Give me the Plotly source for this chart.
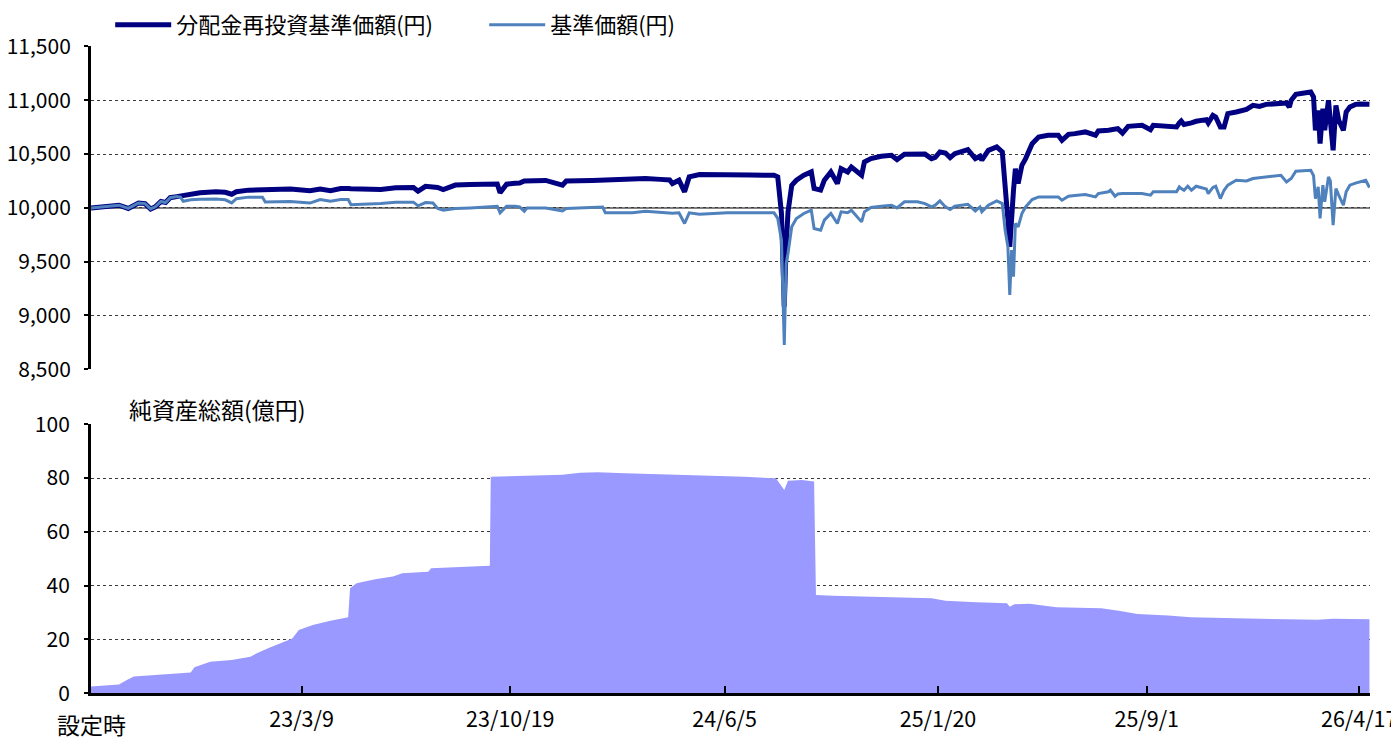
import plotly.graph_objects as go

# ---- data ----
nav_dates = [
    "2022-07-26", "2022-08-05", "2022-08-14", "2022-08-25", "2022-09-04", "2022-09-15", "2022-09-22", "2022-09-28",
    "2022-10-03", "2022-10-09", "2022-10-14", "2022-10-19", "2022-10-26", "2022-10-30", "2022-11-02", "2022-11-10",
    "2022-11-20", "2022-12-07", "2022-12-17", "2022-12-24", "2022-12-29", "2023-01-11", "2023-01-26", "2023-01-29",
    "2023-02-25", "2023-03-18", "2023-03-29", "2023-04-09", "2023-04-20", "2023-04-28", "2023-05-01", "2023-06-02",
    "2023-06-18", "2023-07-07", "2023-07-12", "2023-07-20", "2023-07-28", "2023-08-02", "2023-08-08", "2023-08-21",
    "2023-09-06", "2023-09-24", "2023-10-05", "2023-10-08", "2023-10-15", "2023-10-24", "2023-10-29", "2023-11-03",
    "2023-11-06", "2023-11-26", "2023-12-14", "2023-12-18", "2024-01-15", "2024-01-26", "2024-01-29", "2024-02-27",
    "2024-03-12", "2024-03-28", "2024-04-07", "2024-04-10", "2024-04-17", "2024-04-23", "2024-04-28", "2024-05-09",
    "2024-06-08", "2024-07-03", "2024-07-28", "2024-08-01", "2024-08-05", "2024-08-08", "2024-08-10", "2024-08-12",
    "2024-08-16", "2024-08-21", "2024-08-29", "2024-09-06", "2024-09-09", "2024-09-16", "2024-09-20", "2024-09-27",
    "2024-10-04", "2024-10-08", "2024-10-15", "2024-10-19", "2024-10-30", "2024-11-02", "2024-11-09", "2024-11-20",
    "2024-12-01", "2024-12-07", "2024-12-15", "2024-12-29", "2025-01-06", "2025-01-13", "2025-01-17", "2025-01-22",
    "2025-01-28", "2025-02-02", "2025-02-07", "2025-02-21", "2025-03-01", "2025-03-06", "2025-03-08", "2025-03-15",
    "2025-03-24", "2025-03-30", "2025-04-02", "2025-04-05", "2025-04-07", "2025-04-09", "2025-04-11", "2025-04-13",
    "2025-04-16", "2025-04-20", "2025-04-24", "2025-05-01", "2025-05-08", "2025-05-18", "2025-05-29", "2025-06-02",
    "2025-06-09", "2025-06-16", "2025-06-27", "2025-07-08", "2025-07-11", "2025-07-22", "2025-07-24", "2025-07-29",
    "2025-08-01", "2025-08-06", "2025-08-12", "2025-08-27", "2025-09-05", "2025-09-08", "2025-10-03", "2025-10-06",
    "2025-10-08", "2025-10-11", "2025-10-15", "2025-10-19", "2025-10-24", "2025-11-01", "2025-11-04", "2025-11-06",
    "2025-11-11", "2025-11-14", "2025-11-19", "2025-11-23", "2025-11-27", "2025-12-06", "2025-12-17", "2025-12-24",
    "2025-12-31", "2026-01-07", "2026-01-15", "2026-01-23", "2026-01-29", "2026-02-01", "2026-02-03", "2026-02-08",
    "2026-02-16", "2026-02-24", "2026-02-27", "2026-03-01", "2026-03-04", "2026-03-06", "2026-03-09", "2026-03-11",
    "2026-03-15", "2026-03-17", "2026-03-20", "2026-03-23", "2026-03-26", "2026-03-31", "2026-04-03", "2026-04-07",
    "2026-04-13", "2026-04-18", "2026-04-24", "2026-04-28",
]

nav_reinvested = [
    10000, 10010, 10020, 10025, 9995, 10045, 10040, 9990,
    10010, 10060, 10050, 10095, 10105, 10110, 10120, 10133,
    10140, 10150, 10145, 10127, 10150, 10165, 10170, 10172,
    10175, 10160, 10175, 10160, 10180, 10180, 10178, 10172,
    10188, 10190, 10155, 10200, 10195, 10190, 10170, 10212,
    10218, 10226, 10222, 10140, 10220, 10228, 10230, 10250,
    10252, 10255, 10211, 10250, 10255, 10258, 10258, 10265,
    10273, 10265, 10260, 10226, 10257, 10149, 10288, 10310,
    10313, 10305, 10303, 10288, 9948, 9082, 9638, 9963,
    10210, 10257, 10303, 10334, 10180, 10165, 10257, 10334,
    10226, 10365, 10334, 10380, 10303, 10427, 10458, 10480,
    10489, 10449, 10498, 10504, 10500, 10458, 10470, 10520,
    10510, 10467, 10504, 10541, 10458, 10480, 10443, 10535,
    10566, 10520, 10257, 9886, 9638, 10000, 10165, 10365,
    10226, 10396, 10458, 10597, 10659, 10675, 10675, 10628,
    10684, 10690, 10706, 10675, 10715, 10721, 10725, 10730,
    10737, 10696, 10758, 10767, 10727, 10767, 10752, 10790,
    10807, 10775, 10780, 10790, 10805, 10815, 10820, 10790,
    10860, 10845, 10752, 10752, 10876, 10891, 10915, 10953,
    10943, 10962, 10966, 10970, 10974, 10937, 11000, 11055,
    11067, 11076, 11030, 10721, 10906, 10597, 10922, 10721,
    11000, 10783, 10535, 10953, 10814, 10721, 10891, 10937,
    10962, 10965, 10968, 10962,
]

nav_plain = [
    10000, 10010, 10020, 10025, 9995, 10045, 10040, 9990,
    10010, 10060, 10050, 10095, 10105, 10100, 10062, 10075,
    10080, 10082, 10075, 10046, 10085, 10100, 10100, 10055,
    10060, 10045, 10078, 10062, 10078, 10078, 10030, 10040,
    10053, 10053, 10019, 10050, 10046, 9994, 9979, 9994,
    10000, 10009, 10015, 9954, 10015, 10015, 10009, 9969,
    10000, 9998, 9972, 9994, 10006, 10009, 9954, 9954,
    9969, 9960, 9954, 9950, 9954, 9855, 9954, 9941,
    9954, 9954, 9954, 9902, 9700, 8727, 9484, 9577,
    9824, 9902, 9948, 9979, 9809, 9793, 9886, 9948,
    9855, 9963, 9955, 9979, 9870, 9963, 10004, 10016,
    10025, 10000, 10056, 10056, 10040, 10009, 10025, 10065,
    10009, 9985, 10016, 10034, 9972, 10009, 9963, 10025,
    10065, 10040, 9793, 9638, 9190, 9607, 9360, 9855,
    9824, 9948, 10009, 10077, 10102, 10102, 10102, 10071,
    10108, 10115, 10124, 10102, 10133, 10150, 10164, 10108,
    10130, 10133, 10133, 10133, 10118, 10149, 10149, 10195,
    10180, 10164, 10201, 10164, 10201, 10180, 10175, 10133,
    10190, 10201, 10087, 10164, 10211, 10257, 10250, 10273,
    10280, 10288, 10294, 10303, 10241, 10260, 10273, 10340,
    10345, 10350, 10300, 10087, 10195, 9902, 10211, 10056,
    10288, 10250, 9839, 10180, 10118, 10025, 10149, 10211,
    10230, 10241, 10257, 10189,
]

asset_dates = [
    "2022-07-26", "2022-08-25", "2022-09-03", "2022-09-10", "2022-11-10", "2022-11-14", "2022-12-01", "2022-12-24",
    "2023-01-13", "2023-01-20", "2023-02-01", "2023-02-20", "2023-02-27", "2023-03-06", "2023-03-21", "2023-04-09",
    "2023-04-26", "2023-04-28", "2023-04-30", "2023-05-07", "2023-05-27", "2023-06-15", "2023-06-25", "2023-07-23",
    "2023-07-26", "2023-08-11", "2023-09-26", "2023-09-27", "2023-09-28", "2023-11-16", "2023-12-14", "2024-01-02",
    "2024-01-21", "2024-02-19", "2024-05-09", "2024-06-26", "2024-07-30", "2024-08-08", "2024-08-12", "2024-08-27",
    "2024-09-09", "2024-09-11", "2024-09-29", "2024-11-17", "2024-12-11", "2025-01-13", "2025-01-28", "2025-03-02",
    "2025-04-04", "2025-04-07", "2025-04-12", "2025-04-28", "2025-05-27", "2025-07-14", "2025-08-02", "2025-08-22",
    "2025-09-24", "2025-10-18", "2025-12-05", "2026-01-31", "2026-03-03", "2026-03-20", "2026-04-28",
]

net_assets = [
    2.5, 3.3, 5.0, 6.2, 7.7, 9.7, 11.7, 12.4,
    13.6, 14.9, 16.7, 19.2, 20.4, 23.5, 25.4, 27.0,
    28.1, 28.3, 39.0, 40.9, 42.4, 43.4, 44.6, 45.2,
    46.5, 46.7, 47.3, 47.4, 80.5, 80.8, 81.2, 82.0,
    82.2, 81.8, 81.0, 80.5, 79.9, 75.6, 79.0, 79.3,
    78.7, 36.5, 36.3, 35.9, 35.5, 35.3, 34.4, 33.8,
    33.5, 32.2, 33.1, 33.3, 32.0, 31.6, 30.7, 29.5,
    28.9, 28.3, 27.9, 27.5, 27.3, 27.7, 27.5,
]

tick_dates = ["2023-03-09", "2023-10-19", "2024-06-05", "2025-01-20", "2025-09-01", "2026-04-17"]
tick_labels = ["23/3/9", "23/10/19", "24/6/5", "25/1/20", "25/9/1", "26/4/17"]

name_reinvested = "分配金再投資基準価額(円)"
name_plain = "基準価額(円)"
assets_title = "純資産総額(億円)"
start_label = "設定時"

x_range = ["2022-07-26", "2026-04-28 14:00"]
FONT = "Noto Sans CJK JP"

fig = go.Figure()

fig.add_trace(go.Scatter(
    x=nav_dates, y=nav_reinvested, name=name_reinvested, mode="lines",
    line=dict(color="#000080", width=5), xaxis="x2", yaxis="y2",
))
fig.add_trace(go.Scatter(
    x=nav_dates, y=nav_plain, name=name_plain, mode="lines",
    line=dict(color="#4F81BD", width=3), xaxis="x2", yaxis="y2",
))
fig.add_trace(go.Scatter(
    x=asset_dates, y=net_assets, mode="lines", fill="tozeroy",
    fillcolor="#9999FF", line=dict(color="#9999FF", width=0),
    showlegend=False, xaxis="x", yaxis="y",
))

grid = dict(showgrid=True, gridcolor="#3a3a3a", gridwidth=1, griddash="dot")

fig.update_layout(
    width=1391, height=733,
    template="none",
    paper_bgcolor="white", plot_bgcolor="white",
    margin=dict(l=83, r=29, t=0, b=0, autoexpand=False),
    font=dict(family=FONT, size=21, color="black"),
    showlegend=True,
    legend=dict(
        orientation="h", x=0.015, y=0.9768, xanchor="left", yanchor="middle",
        font=dict(family=FONT, size=22, color="black"),
        bgcolor="rgba(0,0,0,0)", itemwidth=56, tracegroupgap=0,
        entrywidth=303, entrywidthmode="pixels",
    ),
    xaxis=dict(
        type="date", domain=[0, 1], anchor="y", range=x_range,
        tickmode="array", tickvals=tick_dates, ticktext=tick_labels,
        ticks="inside", ticklen=7, tickwidth=2, tickcolor="black",
        showline=True, linecolor="black", linewidth=3,
        showgrid=False, zeroline=False,
        tickfont=dict(family=FONT, size=21.5, color="black"),
        ticklabelstandoff=5, ticklabeloverflow="allow",
    ),
    yaxis=dict(
        domain=[0.0651, 0.4321], anchor="x", range=[0, 100],
        tickmode="linear", tick0=0, dtick=20,
        ticks="outside", ticklen=4, tickwidth=2, tickcolor="black",
        showline=True, linecolor="black", linewidth=3,
        zeroline=False, **grid,
        tickfont=dict(family=FONT, size=21, color="black"),
        ticklabelstandoff=10, ticklabeloverflow="allow",
    ),
    xaxis2=dict(
        type="date", domain=[0, 1], anchor="y2", range=x_range, matches="x",
        showticklabels=False, ticks="", showline=False, showgrid=False, zeroline=False,
    ),
    yaxis2=dict(
        domain=[0.5071, 0.9475], anchor="x2", range=[8500, 11500],
        tickmode="linear", tick0=8500, dtick=500, tickformat=",",
        ticks="outside", ticklen=4, tickwidth=2, tickcolor="black",
        showline=True, linecolor="black", linewidth=3,
        zeroline=False, **grid,
        tickfont=dict(family=FONT, size=21, color="black"),
        ticklabelstandoff=9, ticklabeloverflow="allow",
    ),
    shapes=[
        dict(type="line", xref="x2 domain", yref="y2", x0=0, x1=1, y0=10000, y1=10000,
             line=dict(color="#808080", width=2), layer="below"),
    ],
    annotations=[
        dict(text=assets_title, xref="paper", yref="paper", x=0.0281, y=0.4529,
             xanchor="left", yanchor="middle", showarrow=False,
             font=dict(family=FONT, size=23, color="black")),
        dict(text=start_label, xref="x", yref="paper", x="2022-07-26", y=0.023,
             xanchor="center", yanchor="middle", showarrow=False,
             font=dict(family=FONT, size=23, color="black")),
    ],
)

fig.write_html("out.html")
